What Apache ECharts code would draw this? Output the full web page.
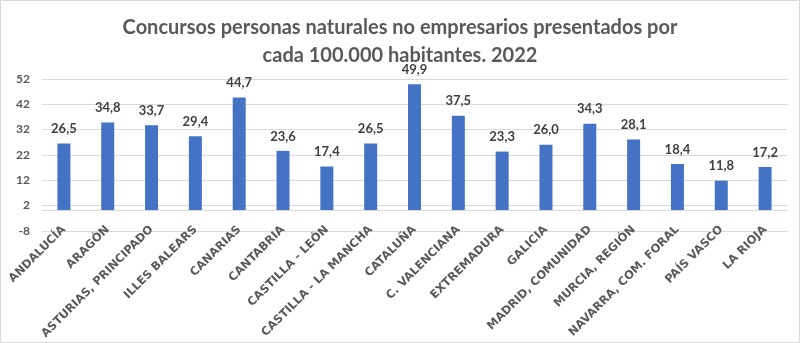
<!DOCTYPE html>
<html><head><meta charset="utf-8">
<script src="https://cdn.jsdelivr.net/npm/echarts@6/dist/echarts.min.js"></script>
<style>
html,body{margin:0;padding:0;background:#fff;}
#c{width:798px;height:341px;border:1px solid #d9d9d9;}
</style></head>
<body><div id="c"></div>
<script>
const titleLines = ['Concursos personas naturales no empresarios presentados por', 'cada 100.000 habitantes. 2022'];
const categories = ['ANDALUCÍA','ARAGÓN','ASTURIAS, PRINCIPADO','ILLES BALEARS','CANARIAS','CANTABRIA','CASTILLA - LEÓN','CASTILLA - LA MANCHA','CATALUÑA','C. VALENCIANA','EXTREMADURA','GALICIA','MADRID, COMUNIDAD','MURCIA, REGIÓN','NAVARRA, COM. FORAL','PAÍS VASCO','LA RIOJA'];
const values = [26.5,34.8,33.7,29.4,44.7,23.6,17.4,26.5,49.9,37.5,23.3,26.0,34.3,28.1,18.4,11.8,17.2];
const yMin = -8, yMax = 52, yStep = 10;

const chart = echarts.init(document.getElementById('c'));
const font = 'Lato, "Open Sans", sans-serif';
chart.setOption({
  animation:false,
  title:{text:titleLines.join('\n'), left:'center', top:8,
    textStyle:{fontFamily:font, fontSize:20, fontWeight:'bold', color:'#595959', lineHeight:28}},
  grid:{left:41, right:12, top:78, bottom:109},
  xAxis:{type:'category', data:categories,
    axisLine:{show:false}, axisTick:{show:false},
    axisLabel:{rotate:45, interval:0, margin:-3, fontFamily:'"DejaVu Sans", sans-serif', fontSize:11.5, fontWeight:'bold', color:'#595959'}},
  yAxis:{type:'value', min:yMin, max:yMax, interval:yStep,
    axisLine:{show:false}, axisTick:{show:false},
    splitLine:{lineStyle:{color:'#d9d9d9', width:1}},
    axisLabel:{fontFamily:font, fontSize:12, fontWeight:'bold', color:'#595959', margin:12}},
  series:[{type:'bar', data:values, barWidth:13,
    itemStyle:{color:'#4472C4'},
    label:{show:true, position:'top', distance:8, fontFamily:font, fontSize:13, fontWeight:'bold', color:'#404040',
      formatter:p=>p.value.toFixed(1).replace('.',',')},
    markLine:{silent:true, symbol:'none', label:{show:false},
      lineStyle:{color:'#d9d9d9', type:'solid', width:1}, data:[{yAxis:0}]}
  }]
});
</script></body></html>
